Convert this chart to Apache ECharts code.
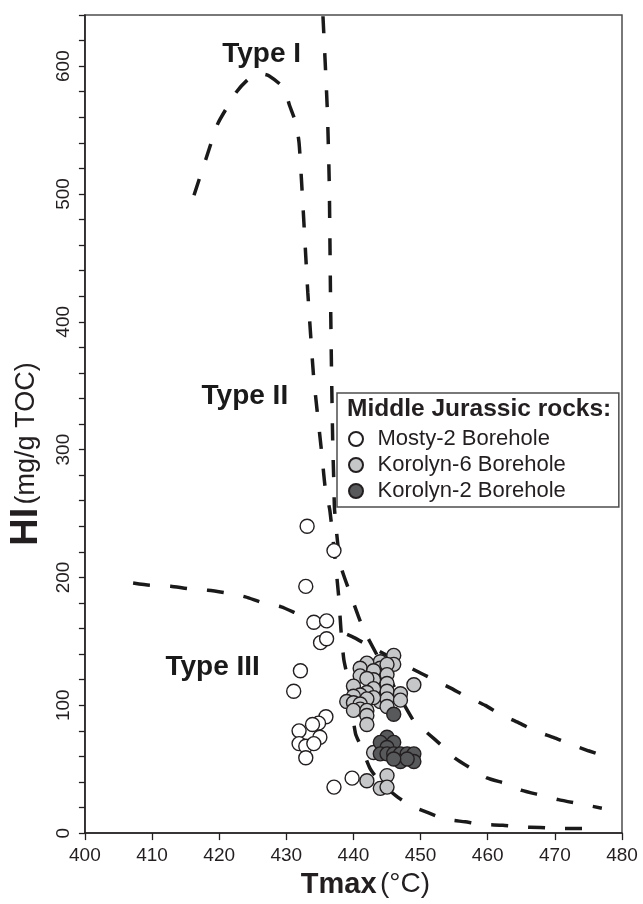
<!DOCTYPE html>
<html><head><meta charset="utf-8">
<script src="https://cdn.jsdelivr.net/npm/echarts@6/dist/echarts.min.js"></script>
<style>html,body{margin:0;padding:0;background:#fff}#c{width:643px;height:904px}</style>
</head><body><div id="c"></div>
<script>
const FONT = "'Liberation Sans', Arial, Helvetica, sans-serif";
const INK = '#231f20';

// tick labels
const xTickLabels = [400, 410, 420, 430, 440, 450, 460, 470, 480];
const yTickLabels = [0, 100, 200, 300, 400, 500, 600];

// [Tmax (°C), HI (mg/g TOC)]
const mosty2 = [
  [433.1,240],[437.1,221],[432.9,193],[434.1,165],[436,166],[435.1,149],[436,152],
  [432.1,127],[431.1,111],[435.9,91],[434.8,86],[433.9,85],[431.9,80],[435,75],
  [431.9,70],[432.9,68],[434.1,70],[432.9,59],[437.1,36],[439.8,43]
];
const korolyn6 = [
  [446,139],[446,132],[444,134],[444,129],[444,123],[444,116],[444,110],[444,103],
  [445,132],[445,124],[445,117],[445,111],[445,105],[445,99],[442,133],[441,129],
  [443,127],[441,123],[443,120],[442,121],[443,113],[440,115],[449,116],[447,109],
  [447,104],[442,110],[441,108],[440,107],[439,103],[440,102],[443,106],[442,105],
  [441,101],[441,97],[440,96],[442,96],[442,92],[442,85],[443,63],[442,41],
  [445,45],[444,35],[445,36]
];
const korolyn2 = [
  [446,93],[445,75],[444,71],[446,71],[445,67],[444,62],[445,62],[446,62],
  [447,62],[448,62],[449,62],[447,56],[449,56],[448,58],[446,58]
];

// dashed kerogen-type boundary curves
const typeICurve = [
  [416.25,499],[418.0,527],[419.8,555],[421.2,568],[422.6,580],[424.4,590],[426.2,594],
  [427.4,592.5],[429.6,583],[430.5,569],[431.4,556],[431.9,540],[432.4,498],[432.9,451],
  [433.2,423],[434.05,358],[434.6,330],[435.3,296],[435.8,270],[436.5,252],[437.77,187],
  [438.14,159],[438.56,136],[439.06,123],[440.3,78],[441.29,66],[442.53,50],[444.01,40],
  [446.25,29.5],[448.48,21.7],[451.2,15.8],[453.68,10.9],[456.65,8.8],[459.14,6.75],
  [462.26,6.2],[464.83,4.9],[467.81,4.4],[470.53,3.6],[473.5,3.6],[477,3.3]
];
const typeIICurve = [
  [435.46,639],[436.09,568],[436.39,510],[436.58,422],[436.73,363],[436.92,304],
  [437.07,276],[437.2,252],[438.07,210],[439.55,187],[441.04,165.4],[442.04,153.7],
  [448.97,87.7],[450.96,78.6],[453.19,68.3],[455.17,58.5],[457.65,50.2],[459.88,43.2],
  [462.75,38.6],[465.09,33.4],[468.06,29.5],[470.53,26.2],[473.5,23.1],[477,19.5]
];
const typeIIICurve = [
  [407.18,195.7],[409.67,193.9],[412.79,193.1],[415.36,191.2],[418.33,190.0],
  [421.07,187.9],[423.9,184.8],[426.51,180.1],[429.25,177.0],[431.72,171.4],
  [439.81,153.7],[442.04,147.3],[449.47,126.6],[451.94,120.1],[454.42,113.6],
  [456.91,106.6],[459.63,99.9],[461.86,92.9],[464.58,86.4],[467.06,80.0],
  [469.78,74.8],[472.27,69.6],[474.99,64.4],[477.8,59.5]
];
const typeLabelNames = ['Type I', 'Type II', 'Type III'];
const typeLabelPos = [[426.4,609],[423.9,341],[419.1,129]];

const chart = echarts.init(document.getElementById('c'), null, {renderer: 'canvas'});

const curveStyle = {color: '#1a1a1a', width: 3.5, type: [17, 20], cap: 'butt'};
function curve(data) {
  return {type: 'line', data: data, symbol: 'none', showSymbol: false, smooth: 0.2,
    lineStyle: curveStyle, silent: true, z: 2, animation: false};
}
function pts(name, data, fill) {
  return {type: 'scatter', name: name, data: data, symbol: 'circle', symbolSize: 14,
    itemStyle: {color: fill, borderColor: INK, borderWidth: 1.4, opacity: 1},
    z: 3, animation: false, emphasis: {disabled: true}};
}

chart.setOption({
  animation: false,
  backgroundColor: '#fff',
  textStyle: {fontFamily: FONT},
  grid: {left: 84, right: 21, top: 15, bottom: 66, show: true,
    borderColor: '#4d4d4d', borderWidth: 1.5, backgroundColor: 'transparent'},
  title: {text: 'Middle Jurassic rocks:', left: 347, top: 397, padding: 0, z: 10,
    textStyle: {fontSize: 24.5, fontWeight: 'bold', color: INK, fontFamily: FONT}},
  legend: {
    data: ['Mosty-2 Borehole', 'Korolyn-6 Borehole', 'Korolyn-2 Borehole'],
    orient: 'vertical', left: 337, top: 393, padding: [35, 53, 5, 11],
    itemWidth: 33, itemHeight: 14, itemGap: 4, selectedMode: false,
    borderColor: '#4d4d4d', borderWidth: 1.5, backgroundColor: '#fff',
    textStyle: {fontSize: 22, color: INK, fontFamily: FONT}
  },
  xAxis: {
    type: 'value', min: 400, max: 480, interval: 10,
    axisLine: {show: true, onZero: false, lineStyle: {color: INK, width: 1.5}},
    axisTick: {show: true, inside: false, length: 7, lineStyle: {color: INK, width: 1.3}},
    axisLabel: {fontSize: 19, color: INK, margin: 13, fontFamily: FONT,
      formatter: v => xTickLabels.includes(v) ? String(v) : ''},
    splitLine: {show: false},
    name: '{b|Tmax} {r|(°C)}', nameLocation: 'middle', nameGap: 34,
    nameTextStyle: {padding: [0, 0, 0, 24], rich: {
      b: {fontSize: 29, fontWeight: 'bold', color: INK, fontFamily: FONT},
      r: {fontSize: 28, color: INK, fontFamily: FONT}}}
  },
  yAxis: {
    type: 'value', min: 0, max: 640, interval: 20,
    axisLine: {show: true, onZero: false, lineStyle: {color: INK, width: 1.5}},
    axisTick: {show: true, inside: false, length: 6, lineStyle: {color: INK, width: 1.3}},
    axisLabel: {rotate: 90, fontSize: 19, color: INK, margin: 12, fontFamily: FONT,
      formatter: v => yTickLabels.includes(v) ? String(v) : ''},
    splitLine: {show: false},
    name: '{b|HI} {r|(mg/g TOC)}', nameLocation: 'middle', nameGap: 37, nameRotate: 90,
    nameTextStyle: {padding: [0, 60, 0, 0], rich: {
      b: {fontSize: 38, fontWeight: 'bold', color: INK, fontFamily: FONT},
      r: {fontSize: 27, color: INK, fontFamily: FONT}}}
  },
  series: [
    curve(typeICurve), curve(typeIICurve), curve(typeIIICurve),
    pts('Mosty-2 Borehole', mosty2, '#ffffff'),
    pts('Korolyn-6 Borehole', korolyn6, '#c5c7c9'),
    pts('Korolyn-2 Borehole', korolyn2, '#58595b'),
    {type: 'scatter', silent: true, symbolSize: 1, z: 5, animation: false,
      itemStyle: {color: '#ffffff', opacity: 0},
      data: typeLabelNames.map((n, i) => ({name: n, value: typeLabelPos[i]})),
      label: {show: true, position: [0, 0], align: 'center', verticalAlign: 'middle',
        formatter: '{b}', fontSize: 28, opacity: 1,
        fontWeight: 'bold', color: '#1a1a1a', fontFamily: FONT}}
  ]
});
</script>
</body></html>
